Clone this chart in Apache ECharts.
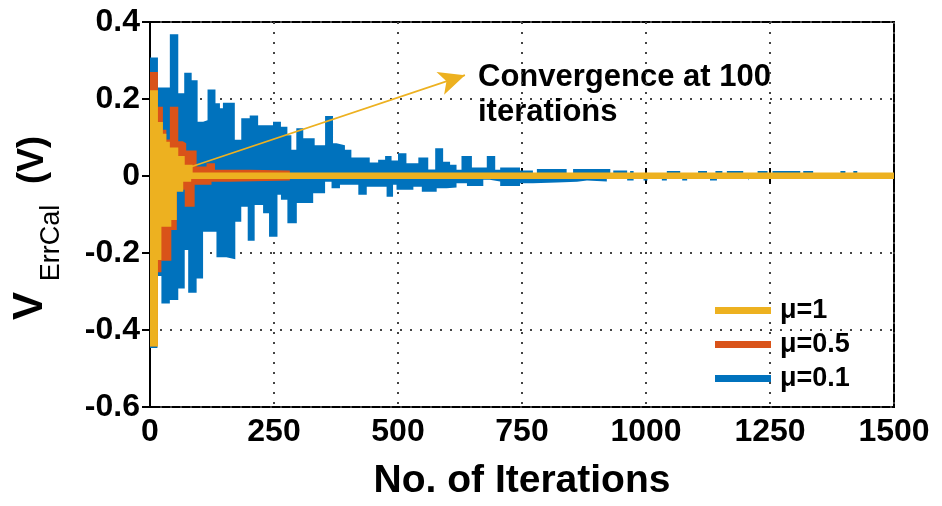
<!DOCTYPE html>
<html>
<head>
<meta charset="utf-8">
<script src="https://cdn.jsdelivr.net/npm/echarts@6/dist/echarts.min.js"></script>
<style>
  html, body { margin: 0; padding: 0; background: #fff; }
  #chart { width: 942px; height: 506px; }
</style>
</head>
<body>
<div id="chart"></div>
<script>
// Calibration error envelopes: [iteration, volts]; each value holds until the next iteration listed.
const muNames = ['μ=1', 'μ=0.5', 'μ=0.1'];
const muColors = ['#EDB120', '#D95319', '#0072BD'];

const xTicks = [0, 250, 500, 750, 1000, 1250, 1500];
const xTickLabels = ['0', '250', '500', '750', '1000', '1250', '1500'];
const yTicks = [-0.6, -0.4, -0.2, 0, 0.2, 0.4];
const yTickLabels = ['-0.6', '-0.4', '-0.2', '0', '0.2', '0.4'];

// mu = 0.1 (slow convergence)
const blueUpper = [
  [0, 0.308], [16, 0.23], [40, 0.368], [57, 0.215], [69, 0.268], [84, 0.249], [96, 0.141],
  [107, 0.145], [116, 0.225], [132, 0.189], [141, 0.176], [147, 0.19], [171, 0.094], [184, 0.15],
  [201, 0.157], [218, 0.132], [248, 0.141], [264, 0.128], [277, 0.106], [285, 0.068], [295, 0.124],
  [309, 0.098], [332, 0.08], [353, 0.156], [369, 0.085], [376, 0.08], [393, 0.068], [406, 0.048],
  [443, 0.035], [460, 0.042], [474, 0.052], [487, 0.04], [500, 0.059], [517, 0.033], [541, 0.048],
  [561, 0.017], [575, 0.072], [591, 0.037], [605, 0.029], [618, 0.016], [628, 0.052], [649, 0.022],
  [679, 0.052], [696, 0.016], [706, 0.022], [746, 0.014], [772, 0], [780, 0.018], [840, 0],
  [853, 0.018], [928, 0], [934, 0.014], [962, 0], [968, 0.013], [975, 0], [1042, 0.013], [1069, 0],
  [1105, 0.013], [1123, 0], [1140, 0.013], [1154, 0], [1163, 0.013], [1196, 0], [1225, 0.013],
  [1245, 0], [1255, 0.013], [1311, 0], [1317, 0.013], [1337, 0], [1392, 0.013], [1402, 0],
  [1418, 0.013], [1426, 0]
];
const blueLower = [
  [0, -0.447], [15, -0.26], [23, -0.331], [40, -0.322], [57, -0.292], [70, -0.192], [77, -0.303],
  [94, -0.266], [107, -0.145], [134, -0.211], [154, -0.216], [172, -0.119], [184, -0.08],
  [197, -0.168], [211, -0.075], [228, -0.097], [240, -0.158], [257, -0.049], [264, -0.062],
  [277, -0.123], [296, -0.07], [329, -0.045], [353, -0.015], [366, -0.032], [383, -0.023],
  [420, -0.049], [437, -0.028], [477, -0.054], [490, -0.023], [497, -0.036], [531, -0.028],
  [548, -0.041], [578, -0.032], [598, -0.03], [618, -0.019], [639, -0.026], [672, -0.01],
  [685, -0.014], [706, -0.026], [746, -0.019], [772, -0.017], [820, -0.015], [861, -0.012],
  [881, -0.014], [921, 0], [962, -0.012], [975, 0], [995, -0.012], [1003, 0], [1032, -0.012],
  [1042, 0], [1073, -0.012], [1083, 0], [1129, -0.012], [1143, 0], [1206, -0.012], [1210, 0]
];

// mu = 0.5
const orangeUpper = [
  [0, 0.27], [16, 0.18], [26, 0.12], [33, 0.095], [40, 0.18], [57, 0.09], [66, 0.085], [73, 0.066],
  [94, 0.025], [114, 0.033], [131, 0.016], [201, 0.014], [282, 0]
];
const orangeLower = [
  [0, -0.442], [16, -0.25], [23, -0.22], [43, -0.14], [54, -0.036], [70, -0.08], [90, -0.023],
  [124, -0.015], [161, -0.012], [282, 0]
];

// mu = 1 (fast convergence, settles near zero)
const yellowUpper = [
  [0, 0.223], [16, 0.14], [26, 0.11], [33, 0.089], [40, 0.074], [57, 0.052], [70, 0.029],
  [86, 0.009], [1500, 0.009]
];
const yellowLower = [
  [0, -0.443], [16, -0.218], [23, -0.132], [43, -0.114], [54, -0.041], [67, -0.015],
  [83, -0.008], [1500, -0.008]
];

// Annotation arrow endpoints in data space
const arrowFrom = [80, 0.023];
const arrowTo = [635, 0.262];

const FONT = '"Liberation Sans", Arial, sans-serif';

function envelope(name, color, data) {
  return {
    name: name,
    type: 'line',
    step: 'end',
    data: data,
    showSymbol: false,
    symbol: 'none',
    color: color,
    itemStyle: { color: color },
    lineStyle: { color: color, width: 0, opacity: 0 },
    areaStyle: { color: color, opacity: 1 },
    silent: true,
    animation: false
  };
}

const dotted = { color: '#444', width: 2, type: [2, 8] };

function pickLabel(ticks, labels, v) {
  let best = 0;
  for (let i = 0; i < ticks.length; i++) {
    if (Math.abs(ticks[i] - v) < Math.abs(ticks[best] - v)) best = i;
  }
  return labels[best];
}

const chart = echarts.init(document.getElementById('chart'), null, { renderer: 'canvas' });

const series = [
  envelope(muNames[2], muColors[2], blueUpper),
  envelope(muNames[2], muColors[2], blueLower),
  envelope(muNames[1], muColors[1], orangeUpper),
  envelope(muNames[1], muColors[1], orangeLower),
  envelope(muNames[0], muColors[0], yellowUpper),
  envelope(muNames[0], muColors[0], yellowLower)
];
series[5].markLine = {
  silent: true,
  animation: false,
  symbol: ['none', 'arrow'],
  symbolSize: [18, 26],
  label: { show: false },
  lineStyle: { color: muColors[0], width: 1.6, type: 'solid', opacity: 1 },
  data: [[{ coord: arrowFrom }, { coord: arrowTo }]]
};

chart.setOption({
  animation: false,
  backgroundColor: '#fff',
  grid: {
    left: 150, right: 48, top: 22, bottom: 99,
    containLabel: false,
    outerBoundsMode: 'none',
    show: true,
    borderColor: '#000',
    borderWidth: 2,
    backgroundColor: 'transparent'
  },
  legend: {
    data: muNames,
    orient: 'vertical',
    left: 710,
    top: 292,
    icon: 'rect',
    itemWidth: 56,
    itemHeight: 7,
    itemGap: 7,
    textStyle: { color: '#000', fontSize: 27, fontWeight: 'bold', fontFamily: FONT, padding: [0, 0, 0, 4] },
    selectedMode: false
  },
  xAxis: [{
    type: 'value',
    min: xTicks[0],
    max: xTicks[xTicks.length - 1],
    interval: xTicks[1] - xTicks[0],
    position: 'bottom',
    name: 'No. of Iterations',
    nameLocation: 'middle',
    nameGap: 55,
    nameTextStyle: { color: '#000', fontSize: 39, fontWeight: 'bold', fontFamily: FONT },
    axisLine: { show: true, lineStyle: { color: '#000', width: 2 } },
    axisTick: { show: true, inside: true, length: 8, lineStyle: { color: '#000', width: 2 } },
    axisLabel: {
      color: '#000', fontSize: 32, fontWeight: 'bold', fontFamily: FONT, margin: 9,
      formatter: function (v) { return pickLabel(xTicks, xTickLabels, v); }
    },
    splitLine: { show: true, lineStyle: dotted }
  }, {
    type: 'value',
    min: xTicks[0],
    max: xTicks[xTicks.length - 1],
    interval: xTicks[1] - xTicks[0],
    position: 'top',
    axisLine: { show: true, lineStyle: { color: '#000', width: 2 } },
    axisTick: { show: true, inside: true, length: 8, lineStyle: { color: '#000', width: 2 } },
    axisLabel: { show: false },
    splitLine: { show: false }
  }],
  yAxis: [{
    type: 'value',
    min: yTicks[0],
    max: yTicks[yTicks.length - 1],
    interval: 0.2,
    position: 'left',
    axisLine: { show: true, lineStyle: { color: '#000', width: 2 } },
    axisTick: { show: true, inside: true, length: 8, lineStyle: { color: '#000', width: 2 } },
    axisLabel: {
      color: '#000', fontSize: 32, fontWeight: 'bold', fontFamily: FONT, margin: 10,
      formatter: function (v) { return pickLabel(yTicks, yTickLabels, v); }
    },
    splitLine: { show: true, lineStyle: dotted }
  }, {
    type: 'value',
    min: yTicks[0],
    max: yTicks[yTicks.length - 1],
    interval: 0.2,
    position: 'right',
    axisLine: { show: true, lineStyle: { color: '#000', width: 2 } },
    axisTick: { show: true, inside: true, length: 8, lineStyle: { color: '#000', width: 2 } },
    axisLabel: { show: false },
    splitLine: { show: false }
  }],
  series: series,
  graphic: [
    {
      type: 'text', x: 30, y: 306, rotation: Math.PI / 2, silent: true,
      style: { text: 'V', font: 'bold 42px ' + FONT, fill: '#000', textAlign: 'center', textVerticalAlign: 'middle', align: 'center', verticalAlign: 'middle' }
    },
    {
      type: 'text', x: 52, y: 243, rotation: Math.PI / 2, silent: true,
      style: { text: 'ErrCal', font: '27px ' + FONT, fill: '#000', textAlign: 'center', textVerticalAlign: 'middle', align: 'center', verticalAlign: 'middle' }
    },
    {
      type: 'text', x: 33, y: 160, rotation: Math.PI / 2, silent: true,
      style: { text: '(V)', font: 'bold 36px ' + FONT, fill: '#000', textAlign: 'center', textVerticalAlign: 'middle', align: 'center', verticalAlign: 'middle' }
    },
    {
      type: 'text', x: 478, y: 60, silent: true,
      style: {
        text: 'Convergence at 100\niterations', font: 'bold 31px ' + FONT, fill: '#000',
        lineHeight: 35, textAlign: 'left', textVerticalAlign: 'top', align: 'left', verticalAlign: 'top'
      }
    }
  ]
});
</script>
</body>
</html>
